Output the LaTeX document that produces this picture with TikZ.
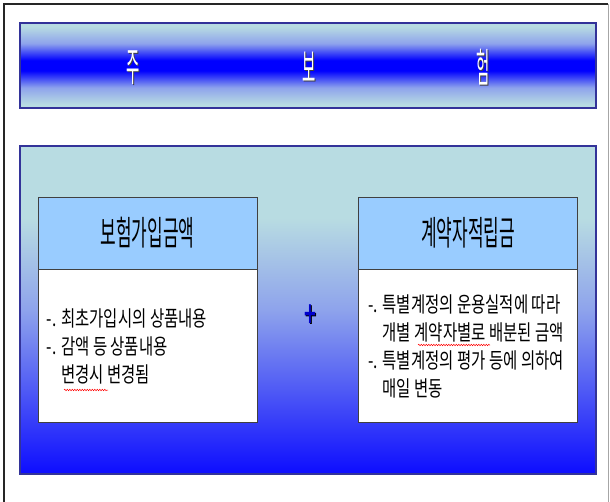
\documentclass[tikz,border=0pt]{standalone}
\usepackage{fontspec}
\newfontfamily\krbanner[FakeStretch=0.36]{Noto Sans CJK KR}
\newfontfamily\krhead[FakeStretch=0.5]{Noto Sans CJK KR}
\newfontfamily\krbody[FakeStretch=0.72]{Noto Sans CJK KR}
\newfontfamily\plusfont{DejaVu Sans}
\usetikzlibrary{positioning,decorations.pathmorphing}

\definecolor{paleaqua}{HTML}{B8DCE2}
\definecolor{midblue}{HTML}{8EA3EC}
\definecolor{edgeblue}{HTML}{333399}
\definecolor{headblue}{HTML}{99CCFF}
\definecolor{plusblue}{HTML}{0000CC}

\pgfdeclareverticalshading{bannershade}{100bp}{color(0bp)=(paleaqua); color(27bp)=(paleaqua); color(37bp)=(midblue); color(47bp)=(blue); color(53bp)=(blue); color(63bp)=(midblue); color(73bp)=(paleaqua); color(100bp)=(paleaqua)}
\pgfdeclareverticalshading{mainshade}{100bp}{color(0bp)=(blue!95!white); color(25bp)=(blue!95!white); color(50bp)=(midblue); color(64bp)=(paleaqua); color(100bp)=(paleaqua)}

\tikzset{
	panel/.style={draw=edgeblue, line width=2pt, inner sep=0pt},
	bannertext/.style={text=white, font=\krbanner\fontsize{40}{40}\selectfont},
	head/.style={draw=black!75, fill=headblue, line width=0.8pt, minimum width=219pt, minimum height=72pt, font=\krhead\fontsize{34}{34}\selectfont},
	body/.style={draw=black!75, fill=white, line width=0.8pt, minimum width=219pt, minimum height=153pt},
	note/.style={align=left, inner sep=0pt, font=\krbody\fontsize{21.5}{28}\selectfont},
	plussign/.style={text=plusblue, font=\plusfont\bfseries\fontsize{30}{30}\selectfont},
	squiggle/.style={red, line width=0.5pt, decorate, decoration={snake, amplitude=0.7pt, segment length=2.5pt}}
}

\begin{document}
\begin{tikzpicture}[x=1pt,y=-1pt]
\useasboundingbox (0,0) rectangle (610,502);

% page frame
\draw[black!85, line width=1.5pt] (4,502) -- (4,4) -- (608,4);
\draw[gray!70, line width=1pt] (608,4) -- (608,502);

% title banner
\node (banner) at (308,65.5) [panel, shading=bannershade, minimum width=576pt, minimum height=85pt] {};
\node (jushadow) at (134,68.5) [bannertext, text=black!75] {주};
\node (ju) at (133,67.5) [bannertext] {주};
\node (boshadow) at (310,68.5) [bannertext, text=black!75] {보};
\node (bo) at (309,67.5) [bannertext] {보};
\node (heomshadow) at (484,68.5) [bannertext, text=black!75] {험};
\node (heom) at (483,67.5) [bannertext] {험};

% main panel
\node (mainbox) at (308,310) [panel, shading=mainshade, minimum width=576pt, minimum height=328pt] {};

% left box
\node (lefthead) at (147.5,233) [head] {보험가입금액};
\node (leftbody) [body, below=0pt of lefthead] {};
\node (lefttext) [note, right=9pt of leftbody.west] {-. 최초가입시의 상품내용\\-. 감액 등 상품내용\\\phantom{-. }변경시 변경됨};

% right box
\node (righthead) at (468,233) [head] {계약자적립금};
\node (rightbody) [body, below=0pt of righthead] {};
\node (righttext) [note, right=10pt of rightbody.west] {-. 특별계정의 운용실적에 따라\\\phantom{-. }개별 계약자별로 배분된 금액\\-. 특별계정의 평가 등에 의하여\\\phantom{-. }매일 변동};

% plus
\node (plusshadow) at (311,315) [plussign, text=black] {\scalebox{0.55}[1]{+}};
\node (plus) at (310,314) [plussign] {\scalebox{0.55}[1]{+}};

% spelling marks
\draw[squiggle] (64,390) -- (108,390);
\draw[squiggle] (418,345) -- (490,345);

\end{tikzpicture}
\end{document}
